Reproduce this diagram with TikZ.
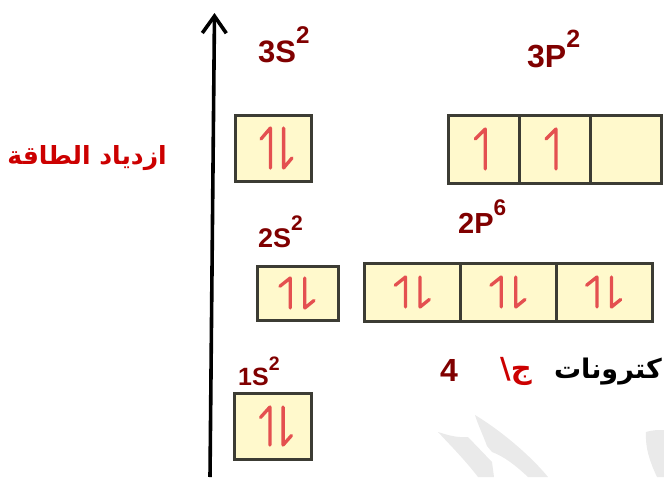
\documentclass[tikz,border=0pt]{standalone}
\usepackage{fontspec}
\setmainfont{Liberation Sans}
\newfontfamily\arabicfont[Script=Arabic]{DejaVu Sans}
\TeXXeTstate=1
\usetikzlibrary{arrows.meta}
\definecolor{dred}{RGB}{128,0,0}
\definecolor{lred}{RGB}{204,0,0}
\definecolor{harpc}{RGB}{228,80,80}
\definecolor{boxfill}{RGB}{255,249,204}
\definecolor{boxline}{RGB}{60,60,52}
\definecolor{wmark}{RGB}{234,234,234}
\newcommand\orblab[3]{\fontsize{#3}{#3}\selectfont\bfseries #1\raisebox{0.6em}{\scalebox{0.78}{#2}}}
\begin{document}
\begin{tikzpicture}[x=1pt,y=-1pt,
  orbbox/.style={draw=boxline,fill=boxfill,line width=3pt,rectangle,inner sep=0pt},
  harp/.style={draw=harpc,line width=3.3pt,line cap=round,line join=round},
  lab/.style={text=dred,inner sep=0pt,anchor=base west},
  updown/.pic={
    \draw[harp] (-0.33,1) -- (-0.33,-1) -- (-0.8,-0.45);
    \draw[harp] (0.33,-1) -- (0.33,1) -- (0.75,0.5);
  },
  uponly/.pic={
    \draw[harp] (0,1) -- (0,-1) -- (-0.5,-0.5);
  }]
\useasboundingbox (0,0) rectangle (664,477);
% watermark fragments
\fill[wmark] (438,432) .. controls (445,434) and (455,438) .. (468,437) -- (492,462) -- (494,477) -- (478,477) .. controls (465,460) and (450,445) .. (438,432) -- cycle;
\fill[wmark] (475,415) .. controls (500,430) and (530,455) .. (548,477) -- (528,477) .. controls (515,465) and (505,457) .. (492,452) -- (487,446) .. controls (483,435) and (478,425) .. (475,415) -- cycle;
\fill[wmark] (646,432) .. controls (652,430) and (658,430) .. (664,430) -- (664,477) -- (657,477) .. controls (650,462) and (645,448) .. (646,432) -- cycle;
% energy axis
\coordinate (axb) at (210,477);
\coordinate (axt) at (214.5,13);
\draw[line width=3.6pt,-{Straight Barb[length=17pt,width=24pt]}] (axb) -- (axt);
% label
\node[text=lred,inner sep=0pt,anchor=base east,font=\arabicfont\bfseries\fontsize{25}{25}\selectfont] (energy) at (167,164) {\beginR ازدياد الطاقة\endR};
% boxes
\node[orbbox,minimum width=76pt,minimum height=66pt] (s3) at (273,148) {};
\node[orbbox,minimum width=70.7pt,minimum height=68pt] (p3a) at (484.3,149) {};
\node[orbbox,minimum width=70.7pt,minimum height=68pt] (p3b) at (555,149) {};
\node[orbbox,minimum width=70.7pt,minimum height=68pt] (p3c) at (625.7,149) {};
\node[orbbox,minimum width=81pt,minimum height=54pt] (s2) at (297.5,293) {};
\node[orbbox,minimum width=95.7pt,minimum height=58pt] (p2a) at (412.8,292) {};
\node[orbbox,minimum width=95.7pt,minimum height=58pt] (p2b) at (508.5,292) {};
\node[orbbox,minimum width=95.7pt,minimum height=58pt] (p2c) at (604.2,292) {};
\node[orbbox,minimum width=77pt,minimum height=66pt] (s1) at (272.5,426) {};
% electrons
\pic[xscale=20,yscale=20] at ([xshift=4pt]s3.center) {updown};
\pic[xscale=20,yscale=19] at ([xshift=4pt]s1.center) {updown};
\pic[xscale=22,yscale=15] at (s2.center) {updown};
\pic[xscale=22,yscale=15] at (p2a.center) {updown};
\pic[xscale=22,yscale=15] at (p2b.center) {updown};
\pic[xscale=22,yscale=15] at (p2c.center) {updown};
\pic[xscale=20,yscale=20] at ([xshift=1pt]p3a.center) {uponly};
\pic[xscale=20,yscale=20] at ([xshift=1pt]p3b.center) {uponly};
% orbital labels
\node[lab] (l3s) at (258,62) {\orblab{3S}{2}{31}};
\node[lab] (l3p) at (527,67) {\orblab{3P}{2}{32}};
\node[lab] (l2s) at (258,247) {\orblab{2S}{2}{27}};
\node[lab] (l2p) at (458,233) {\orblab{2P}{6}{29}};
\node[lab] (l1s) at (238,385) {\orblab{1S}{2}{25}};
% answer line
\node[text=dred,inner sep=0pt,anchor=base west,font=\bfseries\fontsize{32}{32}\selectfont] (four) at (440,381) {4};
\node[text=lred,inner sep=0pt,anchor=base west,font=\arabicfont\bfseries\fontsize{29}{29}\selectfont] (ans) at (500,378) {ج\textbackslash};
\node[text=black,inner sep=0pt,anchor=base east,font=\arabicfont\bfseries\fontsize{27}{27}\selectfont] (elec) at (662,378) {\beginR كترونات\endR};
\end{tikzpicture}
\end{document}
